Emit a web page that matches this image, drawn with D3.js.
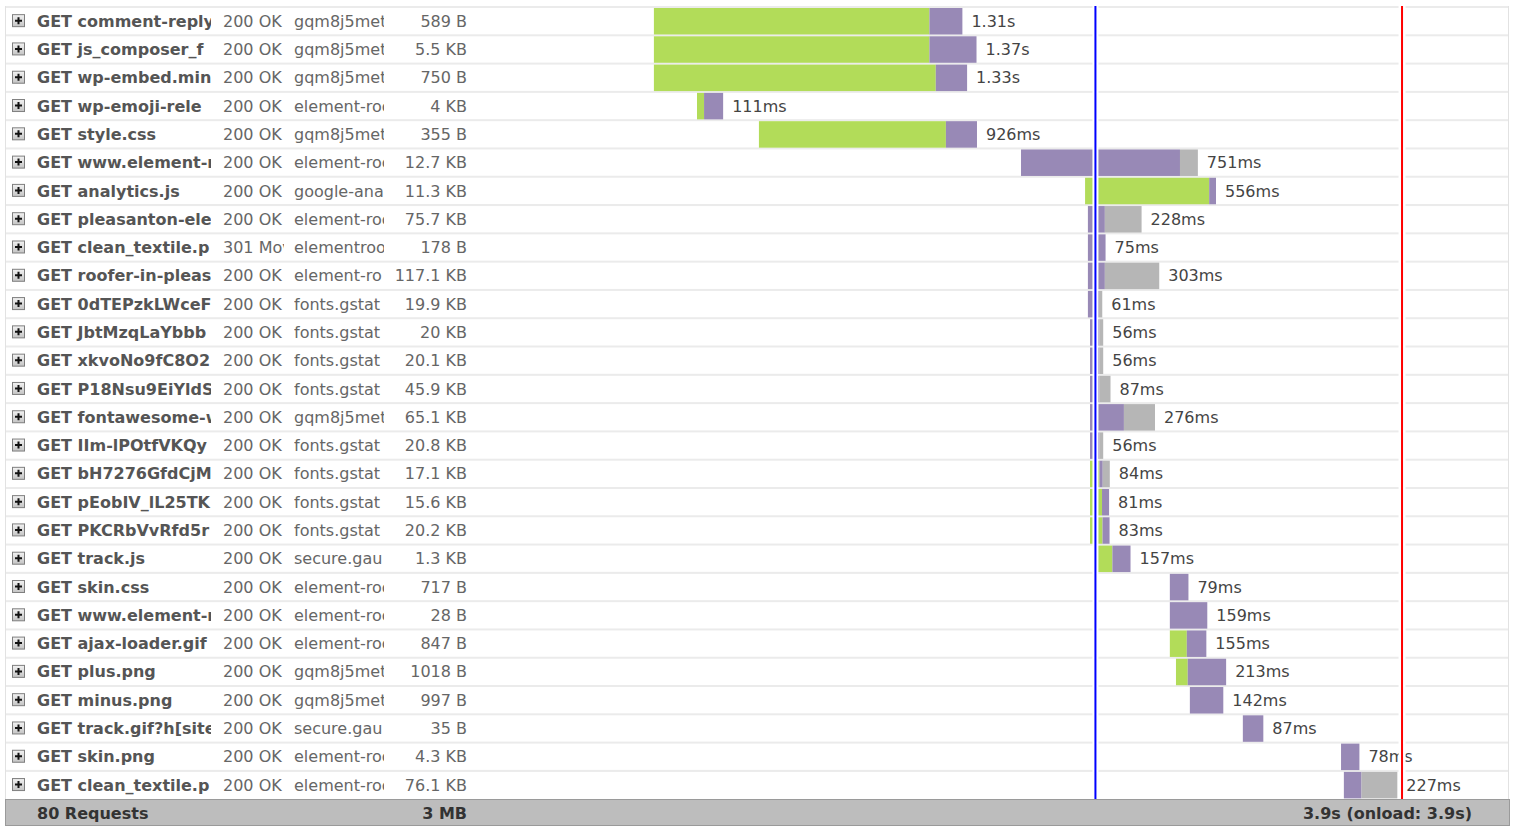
<!DOCTYPE html>
<html>
<head>
<meta charset="utf-8">
<script src="https://cdn.jsdelivr.net/npm/d3@7"></script>
<style>
  body { margin: 0; background: #fff; }
  svg { display: block; font-family: "DejaVu Sans", Verdana, sans-serif; }
</style>
</head>
<body>
<svg width="1513" height="827"></svg>
<script>
// request rows (text as it shows in the cut-off columns)
let names = ["GET comment-reply", "GET js_composer_f", "GET wp-embed.min", "GET wp-emoji-rele",
  "GET style.css", "GET www.element-r", "GET analytics.js", "GET pleasanton-ele", "GET clean_textile.p",
  "GET roofer-in-pleas", "GET 0dTEPzkLWceF", "GET JbtMzqLaYbbb", "GET xkvoNo9fC8O2", "GET P18Nsu9EiYldS",
  "GET fontawesome-w", "GET IIm-lPOtfVKQy", "GET bH7276GfdCjM", "GET pEobIV_lL25TK", "GET PKCRbVvRfd5r",
  "GET track.js", "GET skin.css", "GET www.element-r", "GET ajax-loader.gif", "GET plus.png",
  "GET minus.png", "GET track.gif?h[site", "GET skin.png", "GET clean_textile.p"]
let statuses = ["200 OK", "200 OK", "200 OK", "200 OK", "200 OK", "200 OK", "200 OK", "200 OK",
  "301 Mov", "200 OK", "200 OK", "200 OK", "200 OK", "200 OK", "200 OK", "200 OK",
  "200 OK", "200 OK", "200 OK", "200 OK", "200 OK", "200 OK", "200 OK", "200 OK", "200 OK",
  "200 OK", "200 OK", "200 OK"]
let domains = ["gqm8j5met", "gqm8j5met", "gqm8j5met", "element-roo", "gqm8j5met", "element-roo",
  "google-ana", "element-roo", "elementroo", "element-ro", "fonts.gstat",
  "fonts.gstat", "fonts.gstat", "fonts.gstat", "gqm8j5met", "fonts.gstat",
  "fonts.gstat", "fonts.gstat", "fonts.gstat", "secure.gau", "element-roo",
  "element-roo", "element-roo", "gqm8j5met", "gqm8j5met", "secure.gau", "element-roo",
  "element-roo"]
let sizes = ["589 B", "5.5 KB", "750 B", "4 KB", "355 B", "12.7 KB", "11.3 KB", "75.7 KB", "178 B",
  "117.1 KB", "19.9 KB", "20 KB", "20.1 KB", "45.9 KB", "65.1 KB", "20.8 KB", "17.1 KB", "15.6 KB",
  "20.2 KB", "1.3 KB", "717 B", "28 B", "847 B", "1018 B", "997 B", "35 B", "4.3 KB", "76.1 KB"]

// timings in ms
let starts = [713, 713, 713, 896, 1159, 2272, 2544, 2556, 2556, 2556, 2556, 2565, 2565, 2565, 2565,
  2565, 2565, 2565, 2565, 2580, 2904, 2904, 2904, 2930, 2989, 3214, 3631, 3643]
let green = [1170, 1170, 1197, 30, 794, 0, 527, 0, 0, 0, 0, 0, 0, 0, 0, 0, 40, 51, 53, 80, 0, 0, 72, 50, 0, 0, 0, 0]
let purple = [140, 200, 133, 81, 132, 675, 29, 72, 75, 72, 47, 40, 40, 40, 144, 40, 14, 30, 30, 77, 79, 159, 83, 163, 142, 87, 78, 75]
let gray = [0, 0, 0, 0, 0, 76, 0, 156, 0, 231, 14, 16, 16, 47, 132, 16, 30, 0, 0, 0, 0, 0, 0, 0, 0, 0, 0, 152]

let domContentLoaded = 2588
let onload = 3890
let totals = ["80 Requests", "3 MB", "3.9s (onload: 3.9s)"]

let svg = d3.select("svg")

let x = d3.scaleLinear().domain([0, 4340]).range([486, 1508])
let y = d3.scaleBand().domain(d3.range(names.length)).range([6, 798.2])
let bh = y.bandwidth()

// clip paths for the text columns (in row coordinates)
let defs = svg.append("defs")
let clips = [["clipName", 37, 174], ["clipStatus", 223, 61], ["clipDomain", 294, 90]]
clips.forEach(c => {
  defs.append("clipPath").attr("id", c[0])
    .append("rect").attr("x", c[1]).attr("y", -20).attr("width", c[2]).attr("height", 40)
})

// gradient for the plus box
let grad = defs.append("linearGradient").attr("id", "plusGrad")
  .attr("x1", 0).attr("y1", 0).attr("x2", 0).attr("y2", 1)
grad.append("stop").attr("offset", "0%").attr("stop-color", "#f2f2f2")
grad.append("stop").attr("offset", "100%").attr("stop-color", "#c4c4c4")

// row separators
svg.selectAll(".sep")
  .data(d3.range(names.length))
  .join("rect")
  .attr("x", 5)
  .attr("y", d => y(d))
  .attr("width", 1503)
  .attr("height", 2)
  .attr("fill", "#ebebeb")

svg.append("line")
  .attr("x1", 5.5).attr("x2", 5.5).attr("y1", 6).attr("y2", 799)
  .attr("stroke", "#e2e2e2")
svg.append("line")
  .attr("x1", 1508.5).attr("x2", 1508.5).attr("y1", 6).attr("y2", 799)
  .attr("stroke", "#e2e2e2")

let rows = svg.selectAll(".row")
  .data(d3.range(names.length))
  .join("g")
  .attr("class", "row")
  .attr("transform", d => "translate(0," + (y(d) + 1 + bh / 2) + ")")

// plus icon
rows.append("rect")
  .attr("x", 12.5).attr("y", -6.5).attr("width", 12).attr("height", 12)
  .attr("fill", "url(#plusGrad)").attr("stroke", "#7f7f7f")
rows.append("path")
  .attr("d", "M15,-0.5H22M18.5,-4V3")
  .attr("stroke", "#111").attr("stroke-width", 2)

rows.append("text")
  .attr("x", 37).attr("dy", "0.35em")
  .attr("clip-path", "url(#clipName)")
  .attr("font-size", 16).attr("font-weight", "bold")
  .attr("fill", "#555")
  .text(d => names[d])

rows.append("text")
  .attr("x", 223).attr("dy", "0.35em")
  .attr("clip-path", "url(#clipStatus)")
  .attr("font-size", 16).attr("fill", "#666")
  .text(d => statuses[d])

rows.append("text")
  .attr("x", 294).attr("dy", "0.35em")
  .attr("clip-path", "url(#clipDomain)")
  .attr("font-size", 16).attr("fill", "#666")
  .text(d => domains[d])

rows.append("text")
  .attr("x", 467).attr("dy", "0.35em")
  .attr("text-anchor", "end")
  .attr("font-size", 16).attr("fill", "#666")
  .text(d => sizes[d])

// timeline bars: green, purple, gray phases
let phases = [[green, "#b2dc59"], [purple, "#9889b6"], [gray, "#b6b6b6"]]
phases.forEach((p, k) => {
  rows.append("rect")
    .attr("x", d => {
      let t = starts[d]
      for (let j = 0; j < k; j++) t += phases[j][0][d]
      return x(t)
    })
    .attr("y", -bh / 2 + 1)
    .attr("width", d => x(p[0][d]) - x(0))
    .attr("height", bh - 1.8)
    .attr("fill", p[1])
})

rows.append("text")
  .attr("x", d => x(starts[d] + green[d] + purple[d] + gray[d]) + 9)
  .attr("dy", "0.35em")
  .attr("font-size", 16).attr("fill", "#444")
  .text(d => {
    let t = green[d] + purple[d] + gray[d]
    return t >= 1000 ? (t / 1000).toFixed(2) + "s" : t + "ms"
  })

// DOMContentLoaded and onload markers
let markers = [[domContentLoaded, "#0000ff", 6], [onload, "#ff0000", 7]]
markers.forEach(m => {
  svg.append("rect")
    .attr("x", x(m[0]) - m[2] / 2).attr("y", 6)
    .attr("width", m[2]).attr("height", 793)
    .attr("fill", "#fff")
  svg.append("rect")
    .attr("x", x(m[0]) - 1).attr("y", 6)
    .attr("width", 2).attr("height", 793)
    .attr("fill", m[1])
})

// footer
svg.append("rect")
  .attr("x", 5.5).attr("y", 799.5).attr("width", 1504).attr("height", 26)
  .attr("fill", "#bdbdbd").attr("stroke", "#9a9a9a")

svg.append("text")
  .attr("x", 37).attr("y", 813).attr("dy", "0.35em")
  .attr("font-size", 16).attr("font-weight", "bold").attr("fill", "#333")
  .text(totals[0])
svg.append("text")
  .attr("x", 467).attr("y", 813).attr("dy", "0.35em")
  .attr("text-anchor", "end")
  .attr("font-size", 16).attr("font-weight", "bold").attr("fill", "#333")
  .text(totals[1])
svg.append("text")
  .attr("x", 1472).attr("y", 813).attr("dy", "0.35em")
  .attr("text-anchor", "end")
  .attr("font-size", 16).attr("font-weight", "bold").attr("fill", "#333")
  .text(totals[2])
</script>
</body>
</html>
